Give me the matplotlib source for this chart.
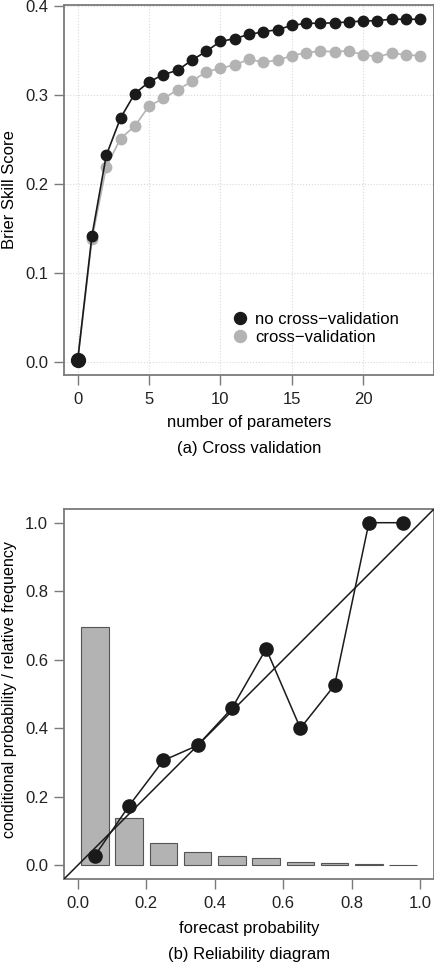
import matplotlib
matplotlib.use('Agg')
import matplotlib.pyplot as plt
import numpy as np

plt.rcParams['font.family'] = ['Liberation Sans', 'DejaVu Sans']

# (a) brier skill score vs number of parameters
n_params = list(range(0, 25))
bss_no_cv = [0.002, 0.142, 0.232, 0.274, 0.3015, 0.3146, 0.3228, 0.3277, 0.339,
             0.349, 0.360, 0.3633, 0.368, 0.3708, 0.3734, 0.378, 0.3805, 0.3805,
             0.381, 0.382, 0.383, 0.3835, 0.385, 0.385, 0.385]
bss_cv = [0.002, 0.138, 0.219, 0.251, 0.265, 0.2876, 0.296, 0.3056, 0.3154,
          0.3258, 0.330, 0.3337, 0.340, 0.3367, 0.339, 0.344, 0.3476, 0.349,
          0.3487, 0.3494, 0.345, 0.343, 0.3468, 0.345, 0.344]

# (b) reliability diagram
bin_centres = [0.05, 0.15, 0.25, 0.35, 0.45, 0.55, 0.65, 0.75, 0.85, 0.95]
cond_prob = [0.028, 0.174, 0.306, 0.350, 0.458, 0.632, 0.400, 0.526, 1.0, 1.0]
rel_freq = [0.696, 0.137, 0.065, 0.040, 0.026, 0.021, 0.009, 0.008, 0.003, 0.001]

W, H = 435, 965
fig = plt.figure(figsize=(W / 100, H / 100), dpi=100)

spine_col = '#7a7a7a'
grey = '#b3b3b3'
dark = '#1a1a1a'
fs = 12


def style_axes(ax):
    for sp in ax.spines.values():
        sp.set_color(spine_col)
        sp.set_linewidth(1.3)
    ax.tick_params(direction='out', length=7.5, width=1.0, color=spine_col,
                   labelsize=fs, pad=4, labelcolor='#222222')
    ax.tick_params(axis='x', pad=5)


# top panel
ax1 = fig.add_axes([64 / W, 1 - 375 / H, 370 / W, 370 / H])
ax1.plot(n_params, bss_cv, '-', color=grey, lw=1.2, marker='o', ms=7.5,
         mec=grey, mfc=grey, label='cross\u2212validation', zorder=3)
ax1.plot(n_params, bss_no_cv, '-', color=dark, lw=1.2, marker='o', ms=7.5,
         mec=dark, mfc=dark, label='no cross\u2212validation', zorder=4)
ax1.plot(n_params[:1], bss_no_cv[:1], 'o', color=dark, ms=10, zorder=5)
ax1.set_xlim(-0.96, 24.96)
ax1.set_ylim(-0.0147, 0.401)
ax1.set_xticks([0, 5, 10, 15, 20])
ax1.set_yticks([0.0, 0.1, 0.2, 0.3, 0.4])
ax1.set_yticklabels(['0.0', '0.1', '0.2', '0.3', '0.4'])
ax1.grid(True, color='#dadada', linestyle=':', linewidth=0.8)
ax1.set_axisbelow(True)
style_axes(ax1)
handles, labels = ax1.get_legend_handles_labels()
leg = ax1.legend([handles[1], handles[0]], [labels[1], labels[0]],
                 loc='upper left', bbox_to_anchor=(0.445, 0.202), frameon=False,
                 fontsize=fs, handlelength=0, handletextpad=0.9,
                 labelspacing=0.2, markerscale=1.15, borderpad=0.2)
for h in leg.legend_handles:
    h.set_linestyle('none')

fig.text(10 / W, 1 - 190 / H, 'Brier Skill Score', rotation=90,
         ha='center', va='center', fontsize=fs)
fig.text(249 / W, 1 - 422 / H, 'number of parameters', ha='center',
         va='center', fontsize=fs)
fig.text(249 / W, 1 - 449 / H, '(a) Cross validation', ha='center',
         va='center', fontsize=fs)

# bottom panel
ax2 = fig.add_axes([64 / W, 1 - 879 / H, 370 / W, 370 / H])
ax2.bar(bin_centres, rel_freq, width=0.08, color=grey, edgecolor='#555555',
        linewidth=0.8, zorder=2)
ax2.plot([-0.04, 1.04], [-0.04, 1.04], color=dark, lw=1.1, zorder=3)
ax2.plot(bin_centres, cond_prob, '-', color=dark, lw=1.1, marker='o', ms=9.5,
         mfc=dark, mec=dark, zorder=4)
ax2.set_xlim(-0.04, 1.04)
ax2.set_ylim(-0.04, 1.04)
ticks = [0.0, 0.2, 0.4, 0.6, 0.8, 1.0]
ax2.set_xticks(ticks)
ax2.set_xticklabels([f'{t:.1f}' for t in ticks])
ax2.set_yticks(ticks)
ax2.set_yticklabels([f'{t:.1f}' for t in ticks])
style_axes(ax2)

fig.text(10 / W, 1 - 690 / H, 'conditional probability / relative frequency',
         rotation=90, ha='center', va='center', fontsize=fs - 0.4)
fig.text(249 / W, 1 - 928 / H, 'forecast probability', ha='center',
         va='center', fontsize=fs)
fig.text(249 / W, 1 - 955 / H, '(b) Reliability diagram', ha='center',
         va='center', fontsize=fs)

fig.savefig('out.png', dpi=100)
